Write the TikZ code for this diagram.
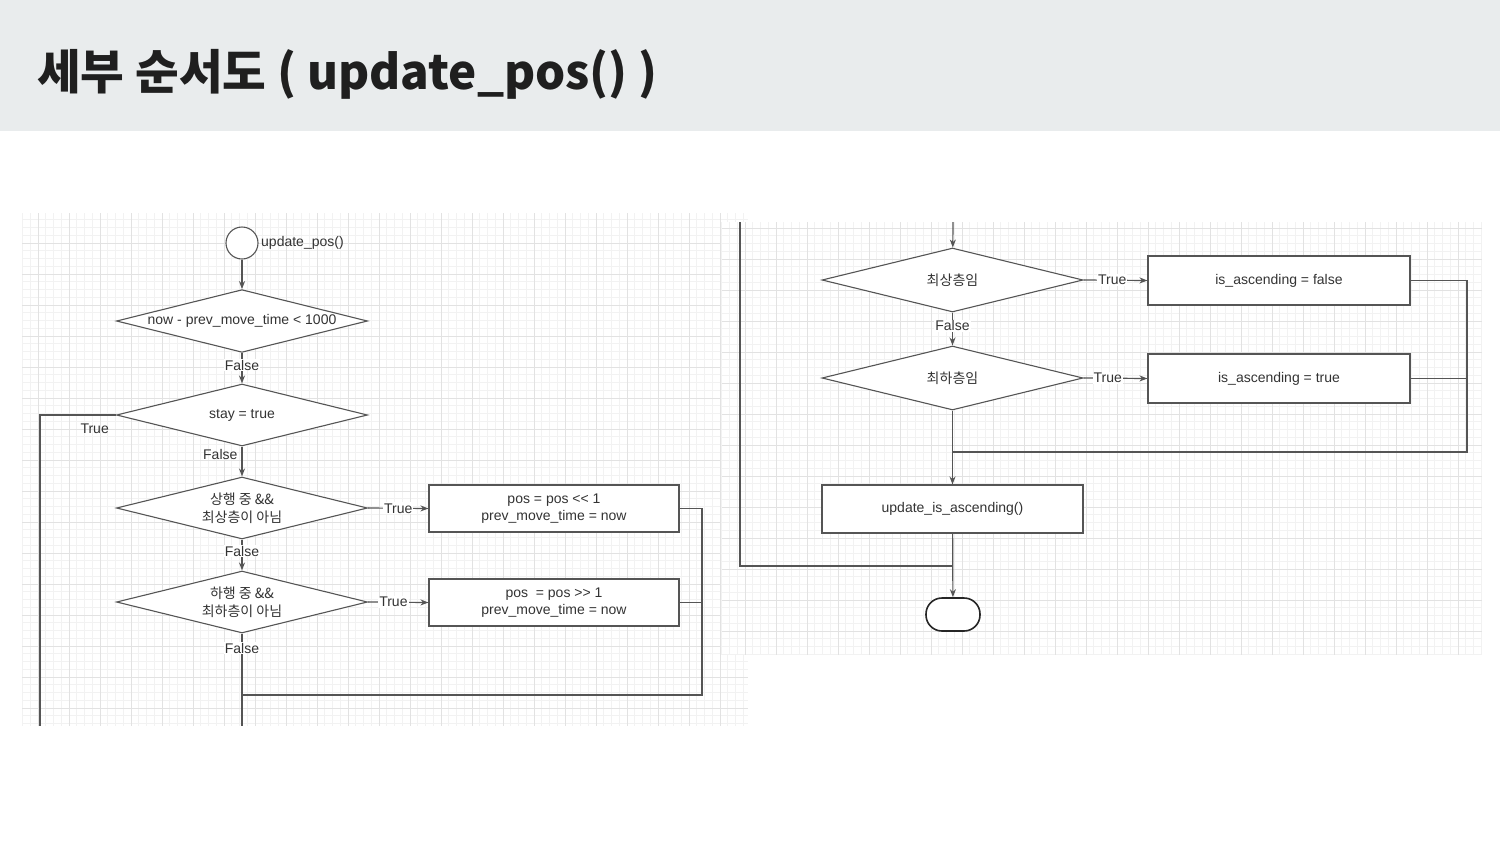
\documentclass[tikz,border=0pt]{standalone}
\usepackage{fontspec}
\setmainfont{Liberation Sans}[Ligatures=TeXOff]
\newfontfamily\kr{Noto Sans CJK KR}
\usetikzlibrary{arrows.meta,shapes.geometric}
\definecolor{titlebg}{RGB}{233,236,237}
\definecolor{ink}{RGB}{51,51,51}
\definecolor{edgec}{RGB}{85,85,85}
\definecolor{gmin}{RGB}{242,242,242}
\definecolor{gmaj}{RGB}{226,226,226}
\begin{document}
\begin{tikzpicture}[x=1pt,y=-1pt,
  fc/.style={font=\fontsize{14}{17}\selectfont, text=ink},
  krfont/.style={font=\kr\fontsize{14}{18}\selectfont, text=ink},
  conn/.style={draw=edgec, line width=1.2pt},
  arr/.style={conn, -{Stealth[length=8pt,width=6pt]}},
  decision/.style={diamond, draw=edgec, line width=1.1pt, fill=white, aspect=3.8, inner sep=0pt, minimum width=251pt, minimum height=62pt, align=center},
  procbox/.style={rectangle, draw=edgec, line width=1.1pt, fill=white, minimum width=250pt, minimum height=47pt, align=center, fc},
  lbl/.style={fill=white, inner sep=1pt, fc},
  gminor/.style={draw=gmin, line width=0.8pt},
  gmajor/.style={draw=gmaj, line width=0.9pt},
  ]
\useasboundingbox (0,0) rectangle (1500,844);
\fill[white] (0,0) rectangle (1500,844);
% title bar
\fill[titlebg] (0,0) rectangle (1500,131);
\node[anchor=base west, inner sep=0pt, font=\kr\bfseries\fontsize{47.5}{57}\selectfont, text=black!88] (title) at (37,89) {세부 순서도 ( update\_pos() )};
% left grid panel
\fill[white] (22,213) rectangle (748,726);
\foreach \k [evaluate=\k as \x using 22.5+7.75*\k] in {0,...,93} {\draw[gminor] (\x,213) -- (\x,726);}
\foreach \k [evaluate=\k as \y using 219.75+7.75*\k] in {0,...,65} {\draw[gminor] (22,\y) -- (748,\y);}
\foreach \k [evaluate=\k as \x using 38+31*\k] in {0,...,22} {\draw[gmajor] (\x,213) -- (\x,726);}
\foreach \k [evaluate=\k as \y using 243+31*\k] in {0,...,15} {\draw[gmajor] (22,\y) -- (748,\y);}
% right grid panel
\fill[white] (722,222) rectangle (1482,655);
\foreach \k [evaluate=\k as \x using 721.75+7.75*\k] in {0,...,98} {\draw[gminor] (\x,222) -- (\x,655);}
\foreach \k [evaluate=\k as \y using 228+7.75*\k] in {0,...,55} {\draw[gminor] (722,\y) -- (1482,\y);}
\foreach \k [evaluate=\k as \x using 745+31*\k] in {0,...,23} {\draw[gmajor] (\x,222) -- (\x,655);}
\foreach \k [evaluate=\k as \y using 228+31*\k] in {0,...,13} {\draw[gmajor] (722,\y) -- (1482,\y);}

% ---------- left flowchart ----------
\node[circle, draw=edgec, line width=1.1pt, fill=white, minimum size=32pt, inner sep=0pt] (start) at (242,243) {};
\node[fc, anchor=west, inner sep=0pt] (startlbl) at (261,243) {update\_pos()};
\node[decision, fc] (d1) at (242,321) {now - prev\_move\_time < 1000};
\node[decision, fc] (d2) at (242,415) {stay = true};
\node[decision, krfont] (d3) at (242,508) {상행 중 \&\&\\최상층이 아님};
\node[decision, krfont] (d4) at (242,602) {하행 중 \&\&\\최하층이 아님};
\node[procbox] (b1) at (554,508.5) {pos = pos << 1\\prev\_move\_time = now};
\node[procbox] (b2) at (554,602.5) {pos~ = pos >> 1\\prev\_move\_time = now};
\coordinate (lcut) at (40,726);
\coordinate (dcut) at (242,726);
\coordinate (lj) at (702,695);
\coordinate (lm) at (242,695);

\draw[arr] (start) -- (d1);
\draw[arr] (d1) -- node[lbl, pos=0.4] {False} (d2);
\draw[arr] (d2) -- node[fc, pos=0.27, anchor=east, inner sep=4pt] {False} (d3);
\draw[conn] (d2.west) -| node[fc, pos=0.14, below=5pt] {True} (lcut);
\draw[arr] (d3.east) -- node[lbl] {True} (b1.west);
\draw[arr] (d4.east) -- node[lbl, pos=0.42] {True} (b2.west);
\draw[arr] (d3) -- node[lbl, pos=0.38] {False} (d4);
\draw[conn] (d4) -- node[lbl, pos=0.16] {False} (dcut);
\draw[conn] (b1.east) -| (lj) -- (lm);
\draw[conn] (b2.east) -- (b2.east -| lj);

% ---------- right flowchart ----------
\coordinate (rtop) at (953,222);
\coordinate (rcut) at (740,222);
\node[decision, krfont, minimum width=261pt, minimum height=64pt] (d5) at (952.5,280) {최상층임};
\node[decision, krfont, minimum width=261pt, minimum height=64pt] (d6) at (952.5,378) {최하층임};
\node[procbox, minimum width=262pt, minimum height=49pt] (b3) at (1279,280.5) {is\_ascending = false};
\node[procbox, minimum width=262pt, minimum height=49pt] (b4) at (1279,378.5) {is\_ascending = true};
\node[procbox, minimum width=261pt, minimum height=48pt] (b5) at (952.5,509) {update\_is\_ascending()};
\node[rectangle, rounded corners=16pt, draw=black!85, line width=1.6pt, fill=white, minimum width=54pt, minimum height=33pt] (end) at (953,614.5) {};
\coordinate (rj) at (1467,452);
\coordinate (rm1) at (953,452);
\coordinate (rm2) at (953,566);

\draw[arr] (rtop) -- (d5);
\draw[arr] (d5) -- node[lbl, pos=0.4] {False} (d6);
\draw[arr] (d5.east) -- node[lbl, pos=0.45] {True} (b3.west);
\draw[arr] (d6.east) -- node[lbl, pos=0.38] {True} (b4.west);
\draw[conn] (b3.east) -| (rj) -- (rm1);
\draw[conn] (b4.east) -- (b4.east -| rj);
\draw[arr] (d6) -- (b5);
\draw[arr] (b5) -- (end);
\draw[conn] (rcut) |- (rm2);
\end{tikzpicture}
\end{document}
